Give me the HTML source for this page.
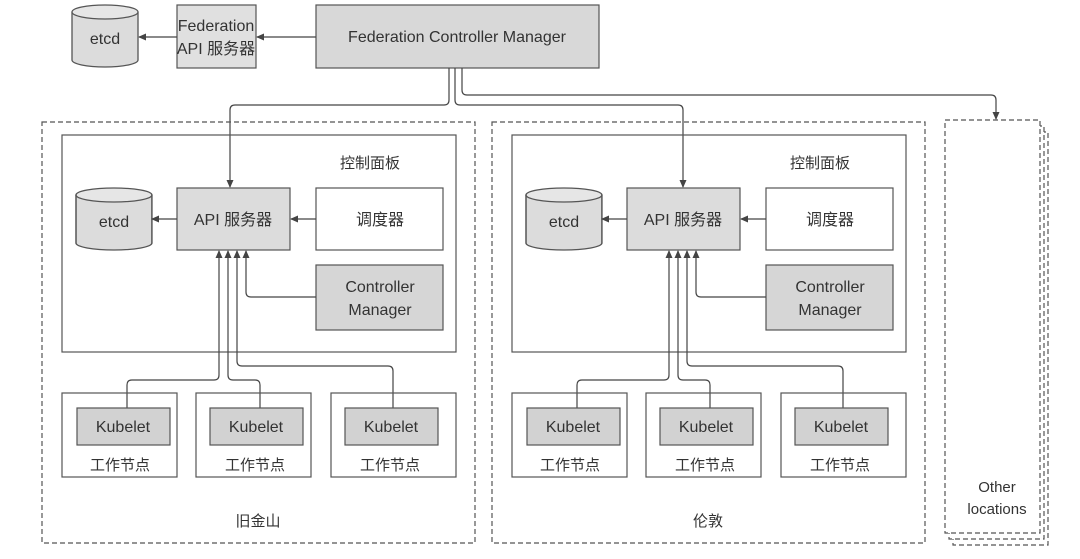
<!DOCTYPE html>
<html><head><meta charset="utf-8"><style>
body{margin:0;background:#fff;}
svg{display:block;}
text{font-family:"Liberation Sans","Noto Sans CJK SC",sans-serif;fill:#333;}
</style></head><body>
<svg width="1080" height="559" viewBox="0 0 1080 559" xmlns="http://www.w3.org/2000/svg">
<defs>
<marker id="a" markerWidth="8" markerHeight="8" refX="7" refY="4" orient="auto" markerUnits="userSpaceOnUse"><path d="M0,0.5 L8,4 L0,7.5 z" fill="#444"/></marker>
<g id="cyl">
<path d="M0,7 L0,55 A33,7 0 0 0 66,55 L66,7" fill="#dcdcdc" stroke="#555" stroke-width="1.3"/>
<ellipse cx="33" cy="7" rx="33" ry="7" fill="#e6e6e6" stroke="#555" stroke-width="1.3"/>
</g>
<g id="region">
<rect x="42" y="122" width="433" height="421" fill="none" stroke="#555" stroke-width="1.2" stroke-dasharray="5,3"/>
<rect x="62" y="135" width="394" height="217" fill="none" stroke="#555" stroke-width="1.2"/>
<text x="370" y="168" font-size="15" text-anchor="middle">控制面板</text>
<g transform="translate(76,188)"><use href="#cyl" transform="scale(1.15,1)"/></g>
<text x="114" y="227" font-size="16" text-anchor="middle">etcd</text>
<rect x="177" y="188" width="113" height="62" fill="#dcdcdc" stroke="#555" stroke-width="1.2"/>
<text x="233" y="225" font-size="16" text-anchor="middle">API 服务器</text>
<rect x="316" y="188" width="127" height="62" fill="#fff" stroke="#555" stroke-width="1.2"/>
<text x="380" y="225" font-size="16" text-anchor="middle">调度器</text>
<rect x="316" y="265" width="127" height="65" fill="#d6d6d6" stroke="#555" stroke-width="1.2"/>
<text x="380" y="292" font-size="16" text-anchor="middle">Controller</text>
<text x="380" y="315" font-size="16" text-anchor="middle">Manager</text>
<line x1="177" y1="219" x2="152" y2="219" stroke="#444" stroke-width="1.2" marker-end="url(#a)"/>
<line x1="316" y1="219" x2="291" y2="219" stroke="#444" stroke-width="1.2" marker-end="url(#a)"/>
<path d="M316,297 L251,297 Q246,297 246,292 L246,251" fill="none" stroke="#444" stroke-width="1.2" marker-end="url(#a)"/>
<path d="M127,408 L127,385 Q127,380 132,380 L214,380 Q219,380 219,375 L219,251" fill="none" stroke="#444" stroke-width="1.2" marker-end="url(#a)"/>
<path d="M260,408 L260,385 Q260,380 255,380 L233,380 Q228,380 228,375 L228,251" fill="none" stroke="#444" stroke-width="1.2" marker-end="url(#a)"/>
<path d="M393,408 L393,371 Q393,366 388,366 L242,366 Q237,366 237,361 L237,251" fill="none" stroke="#444" stroke-width="1.2" marker-end="url(#a)"/>
<rect x="62" y="393" width="115" height="84" fill="none" stroke="#555" stroke-width="1.2"/>
<rect x="77" y="408" width="93" height="37" fill="#d2d2d2" stroke="#555" stroke-width="1.2"/>
<text x="123" y="432" font-size="16" text-anchor="middle">Kubelet</text>
<text x="120" y="470" font-size="15" text-anchor="middle">工作节点</text>
<rect x="196" y="393" width="115" height="84" fill="none" stroke="#555" stroke-width="1.2"/>
<rect x="210" y="408" width="93" height="37" fill="#d2d2d2" stroke="#555" stroke-width="1.2"/>
<text x="256" y="432" font-size="16" text-anchor="middle">Kubelet</text>
<text x="255" y="470" font-size="15" text-anchor="middle">工作节点</text>
<rect x="331" y="393" width="125" height="84" fill="none" stroke="#555" stroke-width="1.2"/>
<rect x="345" y="408" width="93" height="37" fill="#d2d2d2" stroke="#555" stroke-width="1.2"/>
<text x="391" y="432" font-size="16" text-anchor="middle">Kubelet</text>
<text x="390" y="470" font-size="15" text-anchor="middle">工作节点</text>
</g>
</defs>

<!-- top -->
<use href="#cyl" transform="translate(72,5) scale(1,1)"/>
<text x="105" y="44" font-size="16" text-anchor="middle">etcd</text>
<rect x="177" y="5" width="79" height="63" fill="#e0e0e0" stroke="#555" stroke-width="1.2"/>
<text x="216" y="31" font-size="16" text-anchor="middle">Federation</text>
<text x="216" y="54" font-size="16" text-anchor="middle">API 服务器</text>
<rect x="316" y="5" width="283" height="63" fill="#d8d8d8" stroke="#555" stroke-width="1.2"/>
<text x="457" y="42" font-size="16" text-anchor="middle">Federation Controller Manager</text>
<line x1="177" y1="37" x2="139" y2="37" stroke="#444" stroke-width="1.2" marker-end="url(#a)"/>
<line x1="316" y1="37" x2="257" y2="37" stroke="#444" stroke-width="1.2" marker-end="url(#a)"/>

<path d="M449,68 L449,100 Q449,105 444,105 L235,105 Q230,105 230,110 L230,187" fill="none" stroke="#444" stroke-width="1.2" marker-end="url(#a)"/>
<path d="M455,68 L455,100 Q455,105 460,105 L678,105 Q683,105 683,110 L683,187" fill="none" stroke="#444" stroke-width="1.2" marker-end="url(#a)"/>
<path d="M462,68 L462,90 Q462,95 467,95 L991,95 Q996,95 996,100 L996,119" fill="none" stroke="#444" stroke-width="1.2" marker-end="url(#a)"/>

<use href="#region"/>
<text x="258" y="526" font-size="15" text-anchor="middle">旧金山</text>
<use href="#region" transform="translate(450,0)"/>
<text x="708" y="526" font-size="15" text-anchor="middle">伦敦</text>

<!-- other locations -->
<rect x="953" y="132" width="95" height="413" fill="#fff" stroke="#555" stroke-width="1.2" stroke-dasharray="5,3"/>
<rect x="949" y="126" width="95" height="413" fill="#fff" stroke="#555" stroke-width="1.2" stroke-dasharray="5,3"/>
<rect x="945" y="120" width="95" height="413" fill="#fff" stroke="#555" stroke-width="1.2" stroke-dasharray="5,3"/>
<text x="997" y="492" font-size="15" text-anchor="middle">Other</text>
<text x="997" y="514" font-size="15" text-anchor="middle">locations</text>
</svg>
</body></html>
